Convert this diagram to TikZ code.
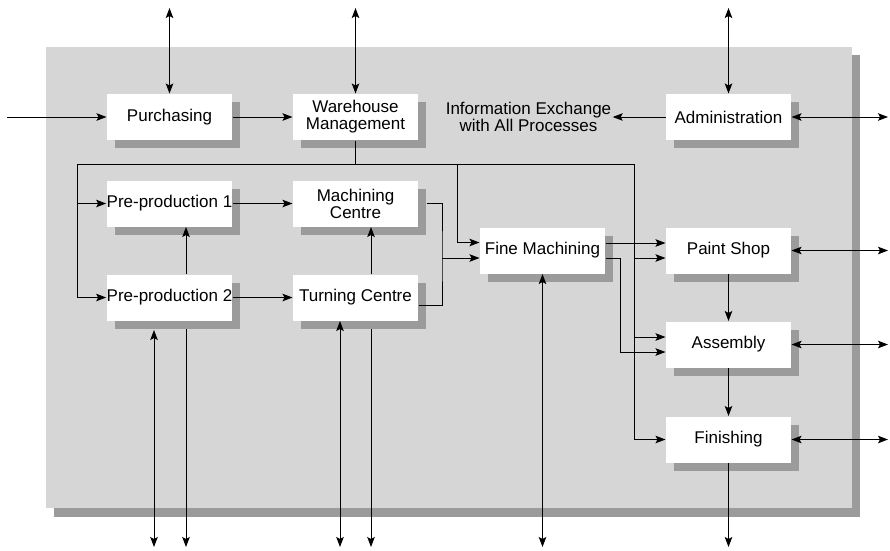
\documentclass[tikz,border=0pt]{standalone}
\usepackage{fontspec}
\setmainfont{Liberation Sans}
\usetikzlibrary{arrows.meta,shadows,calc}
\definecolor{panelgray}{RGB}{214,214,214}
\definecolor{shadegray}{RGB}{155,155,155}
\begin{document}
\begin{tikzpicture}[x=1pt,y=-1pt,line width=1pt,
  >={Stealth[length=10pt,width=7.5pt,inset=2pt]},
  box/.style={fill=white,minimum width=125pt,minimum height=46pt,inner sep=0pt,
    align=center,font=\fontsize{17}{17}\selectfont,
    drop shadow={shadow xshift=8pt,shadow yshift=-8pt,fill=shadegray,opacity=1}},
  note/.style={align=center,inner sep=1pt,font=\fontsize{17}{17}\selectfont}]
\useasboundingbox (0,0) rectangle (890,550);

% panel with its shadow
\fill[shadegray] (54,55) rectangle (860,517);
\fill[panelgray] (46,47) rectangle (852,508);

% process boxes
\node[box] (pur)   at (169.5,117)   {Purchasing};
\node[box] (wh)    at (355.5,117)   {Warehouse\\Management};
\node[box] (adm)   at (728.5,117)   {Administration};
\node[note] (info) at (528.5,117)   {Information Exchange\\with All Processes};
\node[box] (pp1)   at (169.5,203.5) {Pre-production 1};
\node[box] (mc)    at (355.5,203.5) {Machining\\Centre};
\node[box] (pp2)   at (169.5,297.5) {Pre-production 2};
\node[box] (tc)    at (355.5,297.5) {Turning Centre};
\node[box] (fm)    at (542.5,250.5) {Fine Machining};
\node[box] (paint) at (728.5,250.5) {Paint Shop};
\node[box] (asm)   at (728.5,344.5) {Assembly};
\node[box] (fin)   at (728.5,439.5) {Finishing};

% free ends of the outer links
\coordinate (in) at (7,117);
\coordinate (t1) at (169.5,8);
\coordinate (t2) at (355.5,8);
\coordinate (t3) at (728.5,8);
\coordinate (rx) at (888,0);
\coordinate (o1) at (154,547);
\coordinate (o2) at (186,547);
\coordinate (o3) at (340,547);
\coordinate (o4) at (371,547);
\coordinate (o5) at (542.5,547);
\coordinate (o6) at (728.5,547);

% distribution bus
\coordinate (busL) at (77,164);
\coordinate (busM) at (457,164);
\coordinate (busR) at (634,164);
\coordinate (mtj) at (442,258);
\coordinate (fmj) at (620,258);

% top row
\draw[->] (in) -- (pur);
\draw[->] (pur) -- (wh);
\draw[<->] (t1) -- (pur);
\draw[<->] (t2) -- (wh);
\draw[<->] (t3) -- (adm);
\draw[->] (adm) -- (info);
\draw[<->] (adm.east) -- (adm.east -| rx);

% bus from warehouse
\draw (wh.south) -- (wh.south |- busL);
\draw (busL) -- (busR);
\draw[->] (busL) |- (pp2.west);
\draw[->] (busL |- pp1.west) -- (pp1.west);
\draw[->] (busM) |- ($(fm.west)+(0,-8)$);
\draw[->] (busR) |- (fin.west);
\draw[->] ($(busR |- paint.west)+(0,7.5)$) -- ($(paint.west)+(0,7.5)$);
\draw[->] ($(busR |- asm.west)+(0,-7.5)$) -- ($(asm.west)+(0,-7.5)$);

% pre-production and machining
\draw[->] (pp1) -- (mc);
\draw[->] (pp2) -- (tc);
\draw[->] (pp2.north -| o2) -- (pp1.south -| o2);
\draw[->] (tc.north -| o4) -- (mc.south -| o4);
\draw ($(mc.east)+(8,0)$) -| (mtj) |- ($(tc.east)+(0,7.5)$);
\draw[->] (mtj) -- ($(fm.west)+(0,7.5)$);

% fine machining outputs
\draw[->] ($(fm.east)+(0,-7.5)$) -- ($(paint.west)+(0,-7.5)$);
\draw[->] ($(fm.east)+(0,7.5)$) -- (fmj) |- ($(asm.west)+(0,7.5)$);

% finishing line
\draw[->] (paint) -- (asm);
\draw[->] (asm) -- (fin);
\draw[->] (fin) -- (o6);
\draw[<->] (paint.east) -- (paint.east -| rx);
\draw[<->] (asm.east) -- (asm.east -| rx);
\draw[<->] (fin.east) -- (fin.east -| rx);

% links leaving the bottom
\draw[<->] (o1) -- ($(o1 |- pp2.south)+(0,9)$);
\draw[->] ($(o2 |- pp2.south)+(0,8)$) -- (o2);
\draw[<->] (o3) -- (o3 |- tc.south);
\draw[->] ($(o4 |- tc.south)+(0,8)$) -- (o4);
\draw[<->] (o5) -- (fm);
\end{tikzpicture}
\end{document}
